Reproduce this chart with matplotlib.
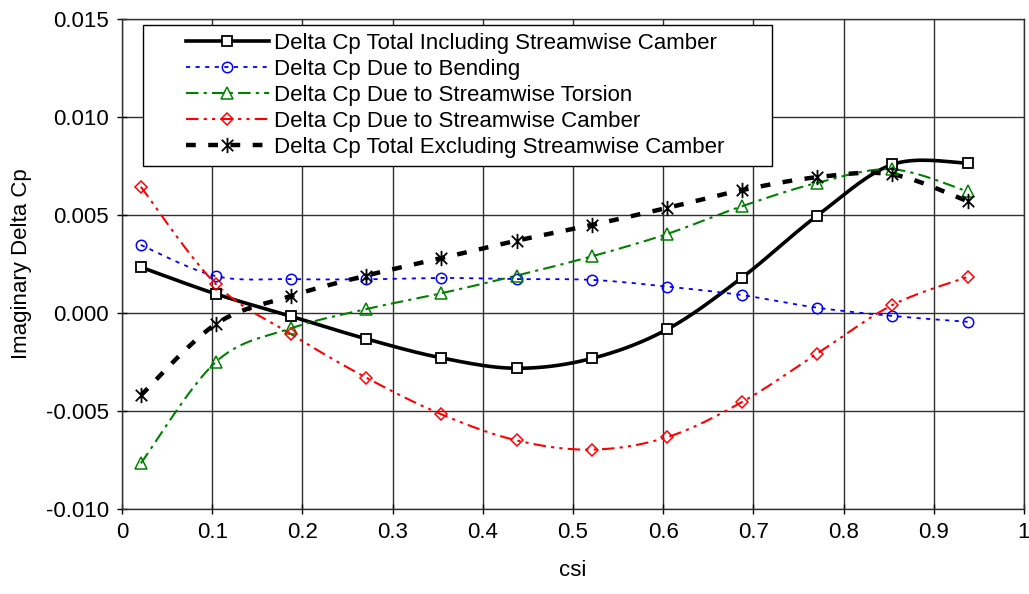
import numpy as np
import matplotlib
matplotlib.use("Agg")
import matplotlib.pyplot as plt
from matplotlib.path import Path
from matplotlib.legend_handler import HandlerLine2D

plt.rcParams['font.family'] = ['Liberation Sans', 'DejaVu Sans']

# spanwise stations
csi = np.array([1, 5, 9, 13, 17, 21, 25, 29, 33, 37, 41, 45]) / 48.0

total_incl = [0.00234, 0.00097, -0.00017, -0.00132, -0.00229, -0.00282,
              -0.00232, -0.00084, 0.00181, 0.00497, 0.00758, 0.00765]
bending = [0.00347, 0.00188, 0.00173, 0.00172, 0.00179, 0.00173,
           0.00169, 0.00135, 0.00091, 0.00027, -0.00015, -0.00045]
torsion = [-0.00767, -0.00249, -0.00078, 0.00020, 0.00101, 0.00191,
           0.00289, 0.00403, 0.00545, 0.00664, 0.00733, 0.00620]
camber = [0.00644, 0.00147, -0.00108, -0.00330, -0.00517, -0.00650,
          -0.00697, -0.00634, -0.00454, -0.00207, 0.00041, 0.00184]
total_excl = [-0.00420, -0.00056, 0.00087, 0.00191, 0.00280, 0.00369,
              0.00449, 0.00536, 0.00627, 0.00693, 0.00707, 0.00570]

labels = ["Delta Cp Total Including Streamwise Camber",
          "Delta Cp Due to Bending",
          "Delta Cp Due to Streamwise Torsion",
          "Delta Cp Due to Streamwise Camber",
          "Delta Cp Total Excluding Streamwise Camber"]


def smooth(x, y, n=20):
    # spreadsheet-style smoothed line (Catmull-Rom through the points)
    x = np.asarray(x, float)
    y = np.asarray(y, float)
    px = np.concatenate([[x[0]], x, [x[-1]]])
    py = np.concatenate([[y[0]], y, [y[-1]]])
    xs, ys = [], []
    t = np.linspace(0, 1, n, endpoint=False)
    for i in range(1, len(px) - 2):
        p0, p1, p2, p3 = px[i - 1], px[i], px[i + 1], px[i + 2]
        q0, q1, q2, q3 = py[i - 1], py[i], py[i + 1], py[i + 2]
        c1x, c1y = p1 + (p2 - p0) / 6, q1 + (q2 - q0) / 6
        c2x, c2y = p2 - (p3 - p1) / 6, q2 - (q3 - q1) / 6
        b0, b1, b2, b3 = (1 - t) ** 3, 3 * t * (1 - t) ** 2, 3 * t ** 2 * (1 - t), t ** 3
        xs.append(b0 * p1 + b1 * c1x + b2 * c2x + b3 * p2)
        ys.append(b0 * q1 + b1 * c1y + b2 * c2y + b3 * q2)
    xs.append([x[-1]])
    ys.append([y[-1]])
    return np.concatenate(xs), np.concatenate(ys)


# excel-like asterisk: vertical bar plus an x
star = Path([(0, -1), (0, 1), (-0.75, -0.75), (0.75, 0.75), (-0.75, 0.75), (0.75, -0.75)],
            [Path.MOVETO, Path.LINETO, Path.MOVETO, Path.LINETO, Path.MOVETO, Path.LINETO])

styles = [
    dict(color='black', lw=2.6, ls='-', marker='s', mfc='white', mec='black', ms=7.5, mew=1.3),
    dict(color='blue', lw=1.3, ls=(0, (2.3, 3)), marker='o', mfc='none', mec='blue', ms=7.5, mew=1.1),
    dict(color='green', lw=1.5, ls=(0, (6, 2.5, 1.5, 2.5)), marker='^', mfc='none', mec='green', ms=8.5, mew=1.1),
    dict(color='red', lw=1.5, ls=(0, (6, 2.5, 1.5, 2.5, 1.5, 2.5)), marker='D', mfc='none', mec='red', ms=6.5, mew=1.1),
    dict(color='black', lw=3.2, ls=(0, (2.2, 2.8)), marker=star, mfc='none', mec='black', ms=11, mew=1.3),
]
series = [total_incl, bending, torsion, camber, total_excl]

fig = plt.figure(figsize=(10.29, 5.94), dpi=100)
ax = fig.add_axes((0.1186, 0.1431, 0.8765, 0.8249))

handles = []
for vals, st, lab in zip(series, styles, labels):
    sx, sy = smooth(csi, vals)
    ax.plot(sx, sy, color=st['color'], lw=st['lw'], ls=st['ls'], zorder=3)
    ax.plot(csi, vals, ls='none', marker=st['marker'], mfc=st['mfc'], mec=st['mec'],
            ms=st['ms'], mew=st['mew'], zorder=4)
    h, = ax.plot([], [], color=st['color'], lw=st['lw'], ls=st['ls'], marker=st['marker'],
                 mfc=st['mfc'], mec=st['mec'], ms=st['ms'], mew=st['mew'])
    handles.append(h)

ax.set_xlim(0, 1)
ax.set_ylim(-0.010, 0.015)
ax.set_xticks(np.arange(0, 1.01, 0.1))
ax.set_xticklabels(['0', '0.1', '0.2', '0.3', '0.4', '0.5', '0.6', '0.7', '0.8', '0.9', '1'])
ax.set_yticks(np.arange(-0.010, 0.0151, 0.005))
ax.set_yticklabels(['-0.010', '-0.005', '0.000', '0.005', '0.010', '0.015'])
ax.tick_params(direction='inout', length=7, width=1, labelsize=16, pad=6)
ax.grid(True, color='#303030', lw=1)
ax.set_axisbelow(True)
for s in ax.spines.values():
    s.set_color('#303030')
    s.set_linewidth(1)

ax.set_xlabel('csi', fontsize=16, labelpad=12)
ax.set_ylabel('Imaginary Delta Cp', fontsize=16, labelpad=10)

leg = ax.legend(handles, labels, loc='upper left', bbox_to_anchor=(0.0233, 0.988, 0.697, 0.0),
                mode='expand', borderaxespad=0, fontsize=16, frameon=True, fancybox=False,
                edgecolor='black', framealpha=1, handlelength=5.3, handletextpad=0.23,
                labelspacing=0.23, borderpad=0.35,
                handler_map={h: HandlerLine2D(numpoints=1, xpad=1.58) for h in handles})
leg.get_frame().set_linewidth(1)

fig.savefig('out.png', dpi=100)
